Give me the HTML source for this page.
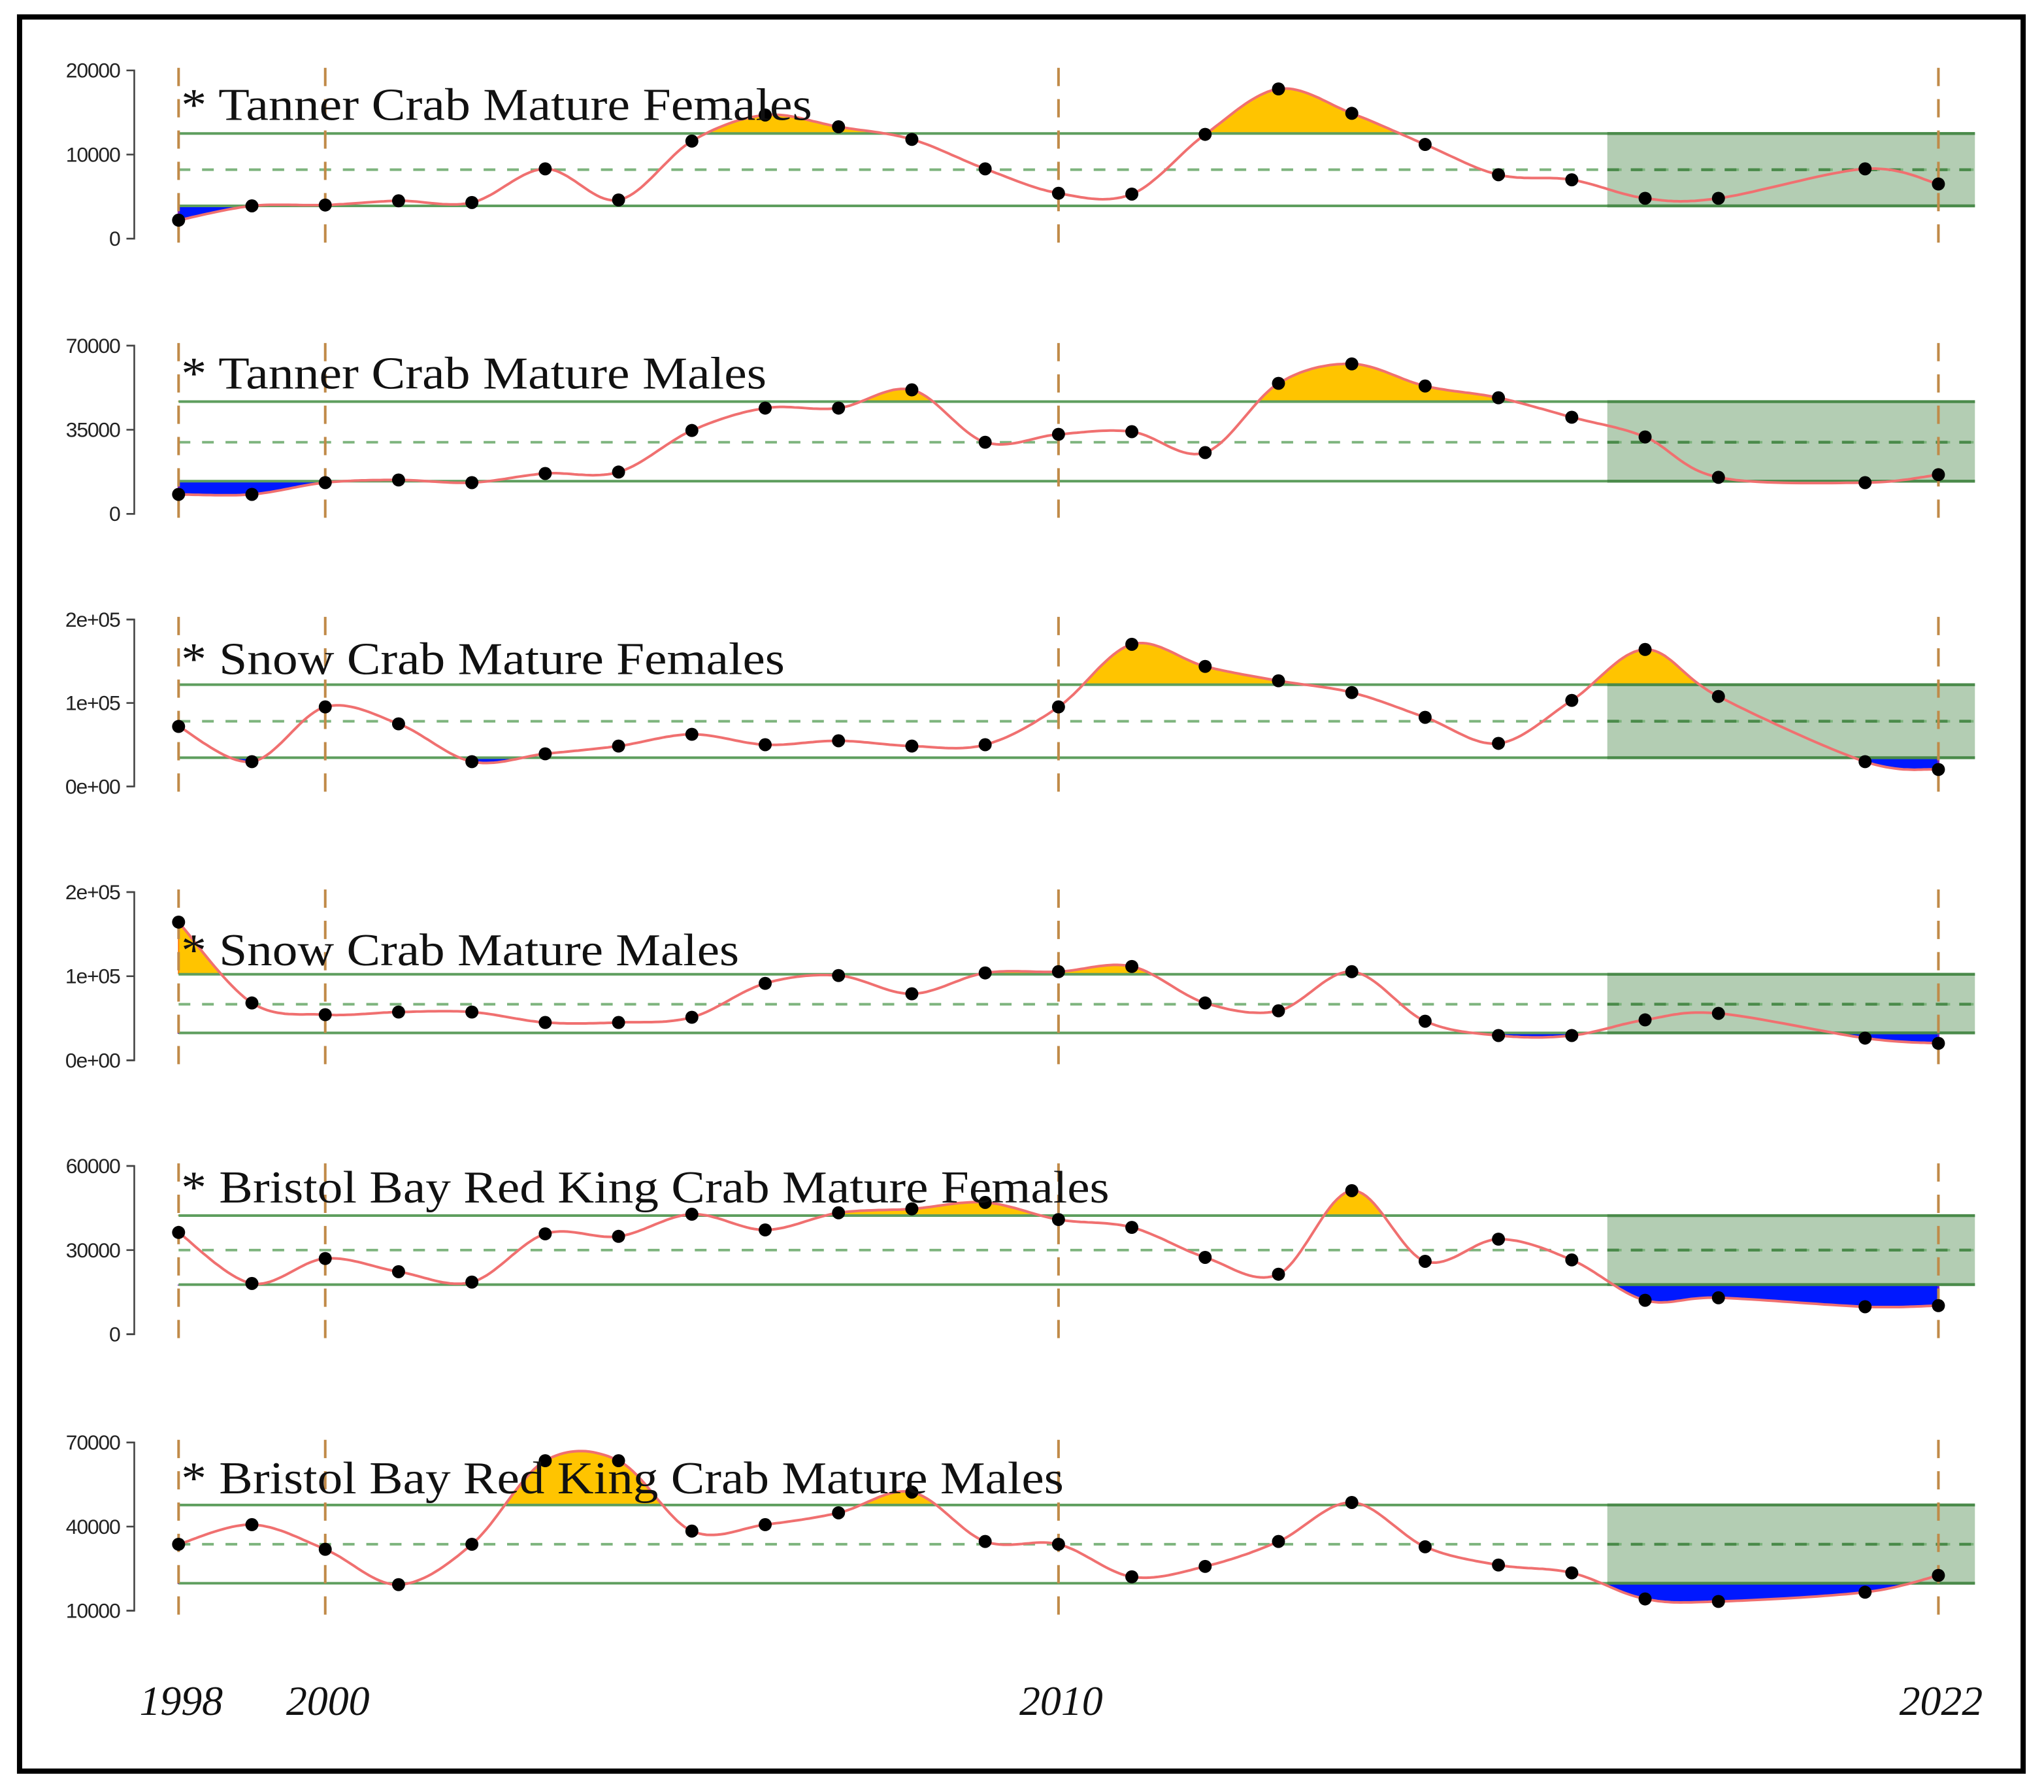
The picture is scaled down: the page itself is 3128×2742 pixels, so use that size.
<!DOCTYPE html>
<html><head><meta charset="utf-8"><style>
html,body{margin:0;padding:0;background:#fff;}
svg{display:block;}
</style></head><body>
<svg id="chart" width="3128" height="2742" viewBox="0 0 1568 1374" preserveAspectRatio="none" xmlns="http://www.w3.org/2000/svg">
<rect x="0" y="0" width="1568" height="1374" fill="#fff"/>
<rect x="15" y="13" width="1537" height="1345" fill="none" stroke="#000" stroke-width="4"/>
<g id="plots"></g>
</svg>
<script>
const years = [1998,1999,2000,2001,2002,2003,2004,2005,2006,2007,2008,2009,2010,2011,2012,2013,2014,2015,2016,2017,2018,2019,2021,2022];
const titles = ["* Tanner Crab Mature Females","* Tanner Crab Mature Males","* Snow Crab Mature Females","* Snow Crab Mature Males","* Bristol Bay Red King Crab Mature Females","* Bristol Bay Red King Crab Mature Males"];
const seriesTannerF = [2200,3900,4000,4500,4300,8300,4600,11600,14700,13300,11800,8300,5400,5300,12400,17800,14900,11200,7600,7000,4800,4800,8300,6500];
const seriesTannerM = [8100,8100,13000,14100,13000,16800,17400,34700,44000,44000,51600,29800,33100,34200,25500,54300,62400,53200,48300,40200,32000,15200,13000,16300];
const seriesSnowF = [71900,29700,95300,75000,29700,39100,48400,62500,50000,54700,48400,50000,95300,170300,143800,126600,112500,82800,51600,103100,164100,107800,29700,20300];
const seriesSnowM = [164300,68200,54300,57400,57400,45000,45000,51200,91500,100800,79100,103900,105400,111600,68200,58900,105400,46500,29500,29500,48100,55800,26400,20200];
const seriesBBRKCF = [36300,18100,27000,22300,18600,35800,34900,42800,37200,43300,44700,47000,40900,38100,27400,21400,51200,26000,33900,26500,12100,13000,9800,10200];
const seriesBBRKCM = [33700,40700,31900,19300,33700,63500,63500,38400,40700,44900,52300,34700,33700,22100,25800,34700,48600,32800,26300,23500,14200,13300,16600,22600];
const upperRef = [12500,46700,121900,102300,42300,47700];
const meanRef = [8200,29800,78100,66700,30000,33700];
const lowerRef = [3900,13600,34400,32600,17700,19800];
const yTickVals = [[0,10000,20000],[0,35000,70000],[0,100000,200000],[0,100000,200000],[0,30000,60000],[10000,40000,70000]];
const yTickLabels = [["0","10000","20000"],["0","35000","70000"],["0e+00","1e+05","2e+05"],["0e+00","1e+05","2e+05"],["0","30000","60000"],["10000","40000","70000"]];
const yearLabels = [1998,2000,2010,2022];
const allSeries = [seriesTannerF,seriesTannerM,seriesSnowF,seriesSnowM,seriesBBRKCF,seriesBBRKCM];

const panelBottom = [183,394,603,813,1023,1235];
const panelTop = [54,265,475,684,894,1106];
const titleY = [92,298,517,740,922,1145];
const titleEnd = [623,588,602,567,851,816];
const xs = y => 137 + (y-1998)*(1487-137)/24;
const NS="http://www.w3.org/2000/svg";
const root=document.getElementById('plots');
function mk(tag,attrs,parent){const e=document.createElementNS(NS,tag);for(const k in attrs)e.setAttribute(k,attrs[k]);(parent||root).appendChild(e);return e;}

function spline(pts){
  const out=[];
  for(let i=0;i<pts.length-1;i++){
    const p0=pts[Math.max(0,i-1)],p1=pts[i],p2=pts[i+1],p3=pts[Math.min(pts.length-1,i+2)];
    const n=20;
    for(let j=0;j<n;j++){const t=j/n,t2=t*t,t3=t2*t;
      const f=(a,b,c,d)=>0.5*((2*b)+(-a+c)*t+(2*a-5*b+4*c-d)*t2+(-a+3*b-3*c+d)*t3);
      out.push([f(p0[0],p1[0],p2[0],p3[0]),f(p0[1],p1[1],p2[1],p3[1])]);}
  }
  out.push(pts[pts.length-1]);return out;
}

allSeries.forEach((vals,p)=>{
  const y0=panelBottom[p],y1=panelTop[p],v0=yTickVals[p][0],v1=yTickVals[p][2];
  const ys=v=>y0+(v-v0)*(y1-y0)/(v1-v0);
  const g=mk('g',{});
  
  
  const uy=ys(upperRef[p]),my=ys(meanRef[p]),ly=ys(lowerRef[p]);
  const sh=mk('rect',{x:1233,y:uy,width:282,height:ly-uy,fill:'#b3cdb3'},g);
  
  
  const ax=mk('path',{d:`M97 ${y1}H103V${y0}H97`,fill:'none',stroke:'#444','stroke-width':1.3},g);
  
  
  yTickVals[p].forEach((tv,i)=>{
    const ty=ys(tv);
    mk('line',{x1:97,x2:103,y1:ty,y2:ty,stroke:'#444','stroke-width':1.3},g);
    const t=mk('text',{x:92,y:ty+5.5,'text-anchor':'end','font-family':'Liberation Sans, sans-serif','font-size':16,'letter-spacing':'-0.6',fill:'#222'},g);
    
    
    t.textContent=yTickLabels[p][i];
  });
  const pts=vals.map((v,i)=>[xs(years[i]),ys(v)]);
  const sp=spline(pts);
  const cid='cu'+p, clid='cl'+p;
  const defs=mk('defs',{},g);
  const c1=mk('clipPath',{id:cid},defs); mk('rect',{x:0,y:0,width:1568,height:uy},c1);
  const c2=mk('clipPath',{id:clid},defs); mk('rect',{x:0,y:ly,width:1568,height:300},c2);
  const d=sp.map((q,i)=>(i?'L':'M')+q[0].toFixed(1)+' '+q[1].toFixed(1)).join('');
  const xa=sp[0][0],xb=sp[sp.length-1][0];
  const fa=mk('path',{d:d+`L${xb} ${uy}L${xa} ${uy}Z`,fill:'#ffc400',stroke:'#ff7a00','stroke-width':1,'clip-path':`url(#${cid})`},g);
  
  
  const fb=mk('path',{d:d+`L${xb} ${ly}L${xa} ${ly}Z`,fill:'#0018ff',stroke:'#8020c0','stroke-width':1.5,'clip-path':`url(#${clid})`},g);
  
  
  [[uy,'upper-reference-line',''],[my,'mean-reference-line','9 9'],[ly,'lower-reference-line','']].forEach(r=>{
    const l=mk('line',{x1:137,x2:1515,y1:r[0],y2:r[0],stroke:r[2]?'#7db47d':'#5e9e5e','stroke-width':2,'stroke-dasharray':r[2]},g);
    
    
    const l2=mk('line',{x1:1233,x2:1515,y1:r[0],y2:r[0],stroke:'#4a8a4a','stroke-width':2.2,'stroke-dasharray':r[2]},g);
    
    
  });
  yearLabels.forEach(yr=>{
    const v=mk('line',{x1:xs(yr),x2:xs(yr),y1:y1-2,y2:y0+8,stroke:'#c08a48','stroke-width':2,'stroke-dasharray':'14 10'},g);
    
    
  });
  const cl=mk('path',{d:d,fill:'none',stroke:'#f07070','stroke-width':2},g);
  
  
  pts.forEach(q=>{
    const c=mk('circle',{cx:q[0],cy:q[1],r:5,fill:'#000'},g);
    
    
  });
  const tt=mk('text',{x:139,y:titleY[p],'font-family':'Liberation Serif, serif','font-size':35,fill:'#111',textLength:titleEnd[p]-139,lengthAdjust:'spacingAndGlyphs'},g);
  
  
  tt.textContent=titles[p];
});
yearLabels.forEach(yr=>{
  const t=mk('text',{x:xs(yr)+2,y:1315,'text-anchor':'middle','font-family':'Liberation Serif, serif','font-style':'italic','font-size':32,fill:'#111'});
  
  
  t.textContent=yr;
});
</script>
</body></html>
